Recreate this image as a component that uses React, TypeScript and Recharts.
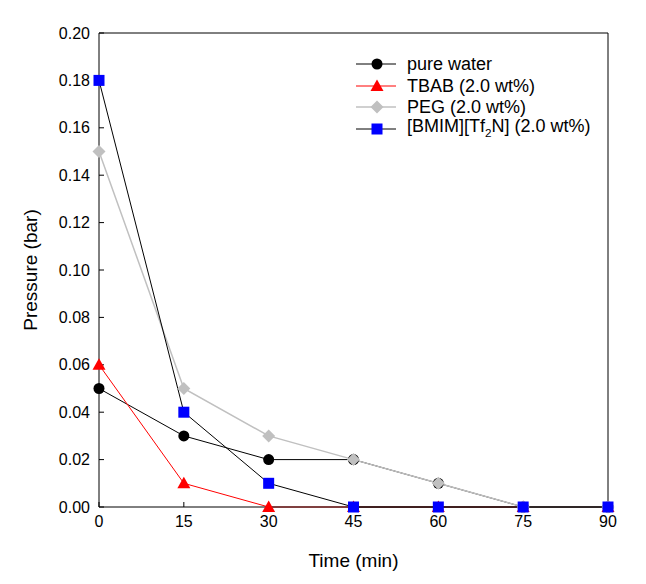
import React from "react";
import {
  LineChart,
  Line,
  XAxis,
  YAxis,
  ReferenceLine,
  Label,
} from "recharts";

const times = [0, 15, 30, 45, 60, 75, 90];
const pureWater = [0.05, 0.03, 0.02, 0.02, 0.01, 0, 0];
const tbab = [0.06, 0.01, 0, 0, 0, 0, 0];
const peg = [0.15, 0.05, 0.03, 0.02, 0.01, 0, 0];
const bmim = [0.18, 0.04, 0.01, 0, 0, 0, 0];

const xTicks = [0, 15, 30, 45, 60, 75, 90];
const yTicks = [0, 0.02, 0.04, 0.06, 0.08, 0.1, 0.12, 0.14, 0.16, 0.18, 0.2];

const FONT = "'Liberation Sans', Arial, sans-serif";

type Kind = "circle" | "triangle" | "diamond" | "square";

const series: { key: string; name: React.ReactNode; line: string; width: number; kind: Kind; fill: string }[] = [
  { key: "water", name: "pure water", line: "#000000", width: 1, kind: "circle", fill: "#000000" },
  { key: "tbab", name: "TBAB (2.0 wt%)", line: "#ff0000", width: 1, kind: "triangle", fill: "#ff0000" },
  { key: "peg", name: "PEG (2.0 wt%)", line: "#c0c0c0", width: 1.5, kind: "diamond", fill: "#c0c0c0" },
  {
    key: "bmim",
    name: (
      <>
        [BMIM][Tf<sub style={{ fontSize: "0.65em" }}>2</sub>N] (2.0 wt%)
      </>
    ),
    line: "#000000",
    width: 1,
    kind: "square",
    fill: "#0000ff",
  },
];

const rows = times.map((t, i) => ({
  time: t,
  water: pureWater[i],
  tbab: tbab[i],
  peg: peg[i],
  bmim: bmim[i],
}));

function marker(kind: Kind, fill: string, cx: number, cy: number, key?: string) {
  if (kind === "circle") return <circle key={key} cx={cx} cy={cy} r={5.5} fill={fill} />;
  if (kind === "triangle")
    return (
      <polygon
        key={key}
        points={`${cx},${cy - 6.5} ${cx - 6.5},${cy + 5} ${cx + 6.5},${cy + 5}`}
        fill={fill}
      />
    );
  if (kind === "diamond")
    return (
      <polygon
        key={key}
        points={`${cx},${cy - 6.5} ${cx + 6.5},${cy} ${cx},${cy + 6.5} ${cx - 6.5},${cy}`}
        fill={fill}
      />
    );
  return <rect key={key} x={cx - 5.5} y={cy - 5.5} width={11} height={11} fill={fill} />;
}

function LegendBox() {
  return (
    <div
      style={{
        position: "absolute",
        left: 356,
        top: 53,
        fontFamily: FONT,
        fontSize: 18,
        color: "#000",
      }}
    >
      {series.map((s) => (
        <div key={s.key} style={{ display: "flex", alignItems: "center", height: 21.7 }}>
          <svg width={51} height={22} style={{ display: "block" }}>
            <line x1={0} y1={11} x2={40} y2={11} stroke={s.line} strokeWidth={s.width} />
            {marker(s.kind, s.fill, 21, 11)}
          </svg>
          <span style={{ whiteSpace: "nowrap", lineHeight: "22px" }}>{s.name}</span>
        </div>
      ))}
    </div>
  );
}

export default function App() {
  return (
    <div style={{ position: "absolute", left: 0, top: 0, width: 646, height: 584, background: "#fff" }}>
      <LineChart
        width={646}
        height={584}
        data={rows}
        margin={{ top: 33, right: 38, bottom: 0, left: 0 }}
        style={{ fontFamily: FONT }}
      >
        <XAxis
          dataKey="time"
          type="number"
          domain={[0, 90]}
          ticks={xTicks}
          height={77}
          stroke="#000"
          tickSize={-5}
          tickMargin={14}
          tick={{ fill: "#000", fontSize: 16 }}
        >
          <Label
            value="Time (min)"
            position="insideBottom"
            offset={17}
            style={{ fill: "#000", fontSize: 19 }}
          />
        </XAxis>
        <YAxis
          type="number"
          domain={[0, 0.2]}
          ticks={yTicks}
          width={99}
          stroke="#000"
          tickSize={-5}
          tickMargin={14}
          tickFormatter={(v: number) => v.toFixed(2)}
          tick={{ fill: "#000", fontSize: 16 }}
        >
          <Label
            value="Pressure (bar)"
            angle={-90}
            position="insideLeft"
            offset={30}
            style={{ fill: "#000", fontSize: 19, textAnchor: "middle" }}
          />
        </YAxis>
        <ReferenceLine y={0.2} stroke="#000" />
        <ReferenceLine x={90} stroke="#000" />
        {series.map((s) => (
          <Line
            key={s.key}
            dataKey={s.key}
            type="linear"
            stroke={s.line}
            strokeWidth={s.width}
            isAnimationActive={false}
            dot={(p: any) => marker(s.kind, s.fill, p.cx, p.cy, `${s.key}-${p.index}`)}
            activeDot={false}
          />
        ))}
      </LineChart>
      <LegendBox />
    </div>
  );
}
